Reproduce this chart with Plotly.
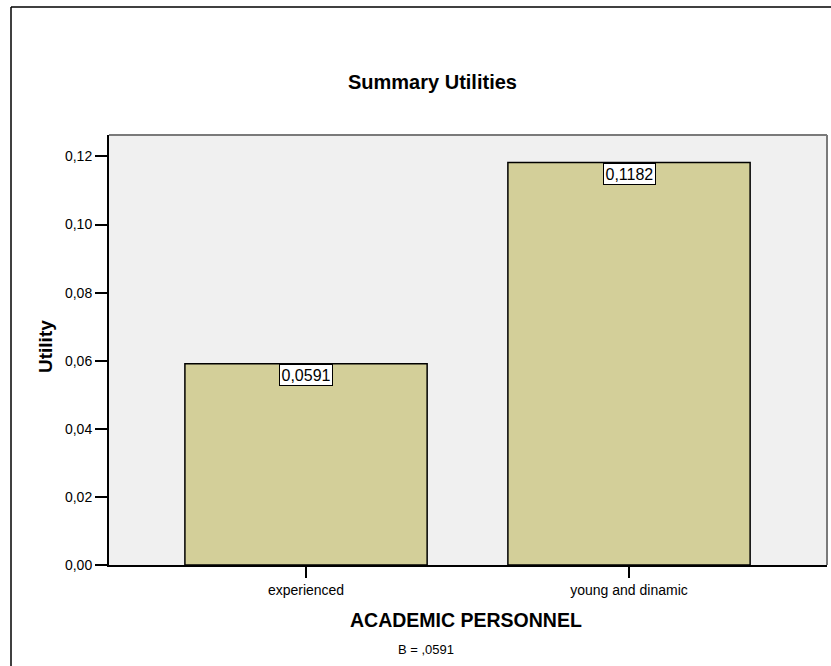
import plotly.graph_objects as go

# Summary utilities for the ACADEMIC PERSONNEL attribute
categories = ["experienced", "young and dinamic"]
utilities = [0.0591, 0.1182]
value_labels = ["0,0591", "0,1182"]
y_tick_values = [0.00, 0.02, 0.04, 0.06, 0.08, 0.10, 0.12]
y_tick_labels = ["0,00", "0,02", "0,04", "0,06", "0,08", "0,10", "0,12"]
footnote = "B = ,0591"

W, H = 831, 666
L, R, T, B = 109, 4, 135, 101
PW, PH = W - L - R, H - T - B

FONT = "Arial, Liberation Sans, sans-serif"
BAR_COLOR = "#d3cf99"
PLOT_BG = "#f0f0f0"


def px_x(px):
    return (px - L) / PW


def px_y(py):
    return (H - B - py) / PH


fig = go.Figure()
fig.add_trace(go.Bar(
    x=list(range(len(categories))),
    y=utilities,
    width=0.75,
    marker=dict(color=BAR_COLOR, line=dict(color="black", width=1.5)),
    hoverinfo="skip",
))

# value boxes hanging from the top of each bar
for i, (v, lab) in enumerate(zip(utilities, value_labels)):
    fig.add_annotation(
        x=i, y=v, xref="x", yref="y", text=lab, showarrow=False,
        yanchor="top", xanchor="center", yshift=-0.5,
        font=dict(family=FONT, size=16, color="black"),
        bgcolor="white", bordercolor="black", borderwidth=1, borderpad=1.5,
    )

fig.add_annotation(text="<b>Summary Utilities</b>", xref="paper", yref="paper",
                   x=px_x(432), y=px_y(82), showarrow=False,
                   xanchor="center", yanchor="middle",
                   font=dict(family=FONT, size=20, color="black"))
fig.add_annotation(text="<b>ACADEMIC PERSONNEL</b>", xref="paper", yref="paper",
                   x=px_x(466), y=px_y(620), showarrow=False,
                   xanchor="center", yanchor="middle",
                   font=dict(family=FONT, size=19.5, color="black"))
fig.add_annotation(text="<b>Utility</b>", xref="paper", yref="paper",
                   x=px_x(45), y=px_y(347), showarrow=False, textangle=-90,
                   xanchor="center", yanchor="middle",
                   font=dict(family=FONT, size=19, color="black"))
fig.add_annotation(text=footnote, xref="paper", yref="paper",
                   x=px_x(426), y=px_y(649), showarrow=False,
                   xanchor="center", yanchor="middle",
                   font=dict(family=FONT, size=13, color="black"))

# grey frame on the top and right of the plot area
fig.add_shape(type="line", xref="paper", yref="paper", x0=0, x1=1, y0=1, y1=1,
              line=dict(color="#7a7a7a", width=2))
fig.add_shape(type="line", xref="paper", yref="paper", x0=1, x1=1, y0=0, y1=1,
              line=dict(color="#7a7a7a", width=2))
# outer chart frame
fig.add_shape(type="line", xref="paper", yref="paper",
              x0=px_x(11), x1=px_x(840), y0=px_y(7), y1=px_y(7),
              line=dict(color="black", width=1.5))
fig.add_shape(type="line", xref="paper", yref="paper",
              x0=px_x(11), x1=px_x(11), y0=px_y(7), y1=px_y(680),
              line=dict(color="black", width=1.5))

fig.update_layout(
    width=W, height=H,
    margin=dict(l=L, r=R, t=T, b=B),
    paper_bgcolor="white", plot_bgcolor=PLOT_BG,
    showlegend=False, separators=",.",
    font=dict(family=FONT, size=14, color="black"),
)
fig.update_xaxes(
    range=[-0.61, 1.613], tickmode="array",
    tickvals=list(range(len(categories))), ticktext=categories,
    showgrid=False, zeroline=False, showline=True, linecolor="black", linewidth=2,
    ticks="outside", ticklen=11, tickwidth=1.5, tickcolor="black",
    tickfont=dict(family=FONT, size=14, color="black"),
    fixedrange=True,
)
fig.update_yaxes(
    range=[0, 0.1263], tickmode="array",
    tickvals=y_tick_values, ticktext=y_tick_labels,
    showgrid=False, zeroline=False, showline=True, linecolor="black", linewidth=2,
    ticks="outside", ticklen=12, tickwidth=2, tickcolor="black",
    tickfont=dict(family=FONT, size=14, color="black"),
    fixedrange=True,
)

fig.write_html("out.html", config={"displayModeBar": False})
